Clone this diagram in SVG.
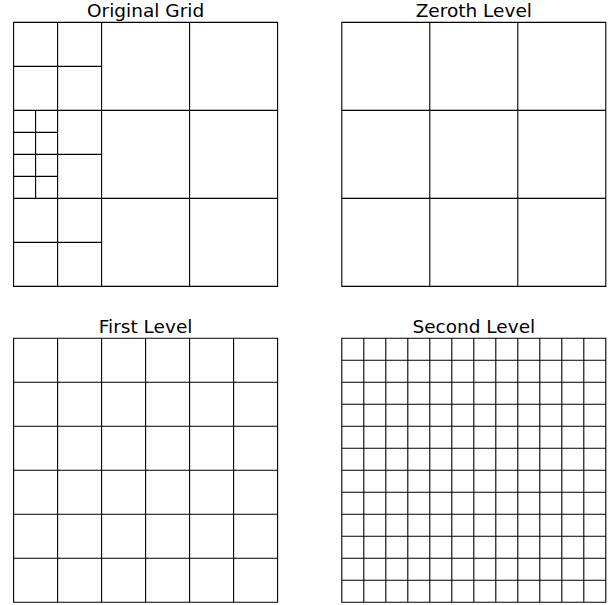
<svg xmlns="http://www.w3.org/2000/svg" width="611" height="605" viewBox="0 0 611 605">
<style>
.t{font-family:"DejaVu Sans",sans-serif;font-size:18.5px;fill:#000;text-anchor:middle}
.g{fill:none;stroke:#000;stroke-width:1.1}
</style>
<rect width="611" height="605" fill="#fff"/>
<g id="original-grid">
<text class="t" x="145.6" y="16.8">Original Grid</text>
<path class="g" d="M13.6 22.4H277.6V286.4H13.6Z M101.6 22.4V286.4 M189.6 22.4V286.4 M13.6 110.4H277.6 M13.6 198.4H277.6 M57.6 22.4V286.4 M13.6 66.4H101.6 M13.6 154.4H101.6 M13.6 242.4H101.6 M35.6 110.4V198.4 M13.6 132.4H57.6 M13.6 176.4H57.6"/>
</g>
<g id="zeroth-level">
<text class="t" x="473.8" y="16.8">Zeroth Level</text>
<path class="g" d="M341.8 22.4H605.8V286.4H341.8Z M429.8 22.4V286.4 M517.8 22.4V286.4 M341.8 110.4H605.8 M341.8 198.4H605.8"/>
</g>
<g id="first-level">
<text class="t" x="145.6" y="332.6">First Level</text>
<path class="g" d="M13.6 338.2H277.6V602.2H13.6Z M57.6 338.2V602.2 M101.6 338.2V602.2 M145.6 338.2V602.2 M189.6 338.2V602.2 M233.6 338.2V602.2 M13.6 382.2H277.6 M13.6 426.2H277.6 M13.6 470.2H277.6 M13.6 514.2H277.6 M13.6 558.2H277.6"/>
</g>
<g id="second-level">
<text class="t" x="473.8" y="332.6">Second Level</text>
<path class="g" d="M341.8 338.2H605.8V602.2H341.8Z M363.8 338.2V602.2 M385.8 338.2V602.2 M407.8 338.2V602.2 M429.8 338.2V602.2 M451.8 338.2V602.2 M473.8 338.2V602.2 M495.8 338.2V602.2 M517.8 338.2V602.2 M539.8 338.2V602.2 M561.8 338.2V602.2 M583.8 338.2V602.2 M341.8 360.2H605.8 M341.8 382.2H605.8 M341.8 404.2H605.8 M341.8 426.2H605.8 M341.8 448.2H605.8 M341.8 470.2H605.8 M341.8 492.2H605.8 M341.8 514.2H605.8 M341.8 536.2H605.8 M341.8 558.2H605.8 M341.8 580.2H605.8"/>
</g>
<g id="connectors"></g>
</svg>
